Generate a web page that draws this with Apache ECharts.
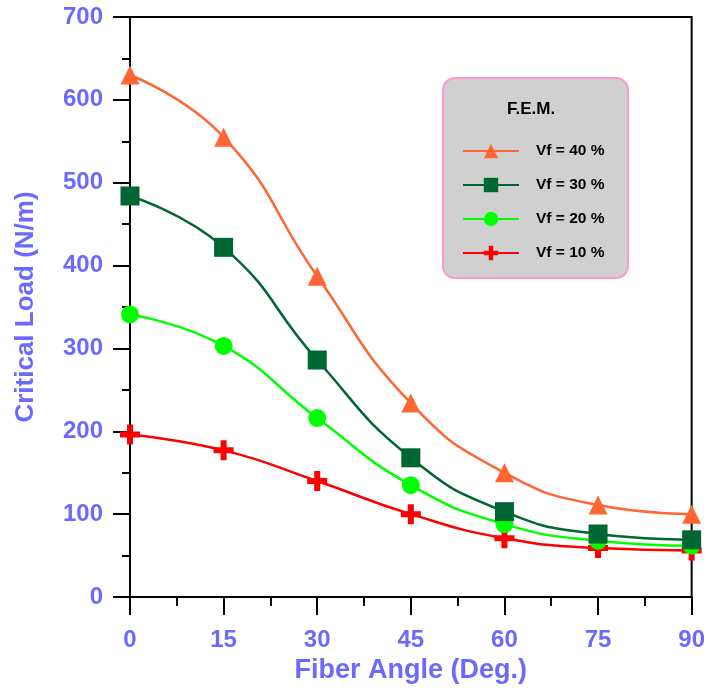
<!DOCTYPE html>
<html><head><meta charset="utf-8">
<script src="https://cdn.jsdelivr.net/npm/echarts@6/dist/echarts.min.js"></script>
<style>html,body{margin:0;padding:0;background:#fff}#c{width:708px;height:693px}</style>
</head><body><div id="c"></div>
<script>
const angles = [0, 15, 30, 45, 60, 75, 90];
const vf40 = [630, 555, 387, 234, 150, 111, 100];
const vf30 = [484, 422, 286, 168, 103, 76, 69];
const vf20 = [341, 303, 216, 135, 88, 68, 62];
const vf10 = [196, 177, 140, 100, 71, 59, 56];
const yTicks = [0, 100, 200, 300, 400, 500, 600, 700];
const xTicks = [0, 15, 30, 45, 60, 75, 90];

const plus = 'path://M7,0H13V7H20V13H13V20H7V13H0V7H7Z';
const axisBlue = '#6a6aff';
const font = '"Liberation Sans", Arial, sans-serif';

function mk(name, vals, color, symbol, size) {
  return {
    name: name, type: 'line', smooth: 0.5,
    data: angles.map((a, i) => [a, vals[i]]),
    symbol: symbol, symbolSize: size,
    lineStyle: {color: color, width: 2.5},
    itemStyle: {color: color, borderWidth: 0},
    z: 3
  };
}

const chart = echarts.init(document.getElementById('c'));
chart.setOption({
  animation: false,
  grid: {left: 130, right: 15, top: 17, bottom: 96, show: true, borderColor: '#000', borderWidth: 2, backgroundColor: 'transparent'},
  xAxis: {
    type: 'value', min: 0, max: 90, interval: 15,
    name: 'Fiber Angle (Deg.)', nameLocation: 'middle', nameGap: 56,
    nameTextStyle: {color: axisBlue, fontSize: 27, fontWeight: 'bold', fontFamily: font},
    axisLine: {show: true, lineStyle: {color: '#000', width: 2}},
    axisTick: {show: true, length: 18, lineStyle: {color: '#000', width: 2}},
    minorTick: {show: true, splitNumber: 2, length: 9, lineStyle: {color: '#000', width: 2}},
    splitLine: {show: false},
    axisLabel: {color: axisBlue, fontSize: 24, fontWeight: 'bold', fontFamily: font, margin: 31,
      formatter: v => xTicks.includes(v) ? String(v) : ''}
  },
  yAxis: {
    type: 'value', min: 0, max: 700, interval: 100,
    name: 'Critical Load (N/m)', nameLocation: 'middle', nameGap: 91,
    nameTextStyle: {color: axisBlue, fontSize: 26, fontWeight: 'bold', fontFamily: font},
    axisLine: {show: true, lineStyle: {color: '#000', width: 2}},
    axisTick: {show: true, length: 17, lineStyle: {color: '#000', width: 2}},
    minorTick: {show: true, splitNumber: 2, length: 8, lineStyle: {color: '#000', width: 2}},
    splitLine: {show: false},
    axisLabel: {color: axisBlue, fontSize: 24, fontWeight: 'bold', fontFamily: font, margin: 27,
      formatter: v => yTicks.includes(v) ? String(v) : ''}
  },
  legend: {
    orient: 'vertical', left: 457, top: 138, itemWidth: 56, itemHeight: 18, itemGap: 18,
    data: ['Vf = 40 %', 'Vf = 30 %', 'Vf = 20 %', 'Vf = 10 %'],
    textStyle: {color: '#000', fontSize: 15.5, fontWeight: 'bold', fontFamily: font, padding: [0, 0, 0, 12]},
    z: 10
  },
  graphic: [
    {type: 'rect', left: 442, top: 77, z: 1,
      shape: {width: 185, height: 200, r: 12},
      style: {fill: '#d0d0d0', stroke: '#ff99cc', lineWidth: 2}},
    {type: 'text', left: 507, top: 101, z: 2,
      style: {text: 'F.E.M.', fill: '#000', font: 'bold 17px "Liberation Sans", Arial, sans-serif'}}
  ],
  series: [
    mk('Vf = 10 %', vf10, '#ff0000', plus, 20),
    mk('Vf = 20 %', vf20, '#00ff00', 'circle', 18),
    mk('Vf = 30 %', vf30, '#006633', 'rect', 19),
    mk('Vf = 40 %', vf40, '#ff6633', 'triangle', 19)
  ]
});
</script></body></html>
